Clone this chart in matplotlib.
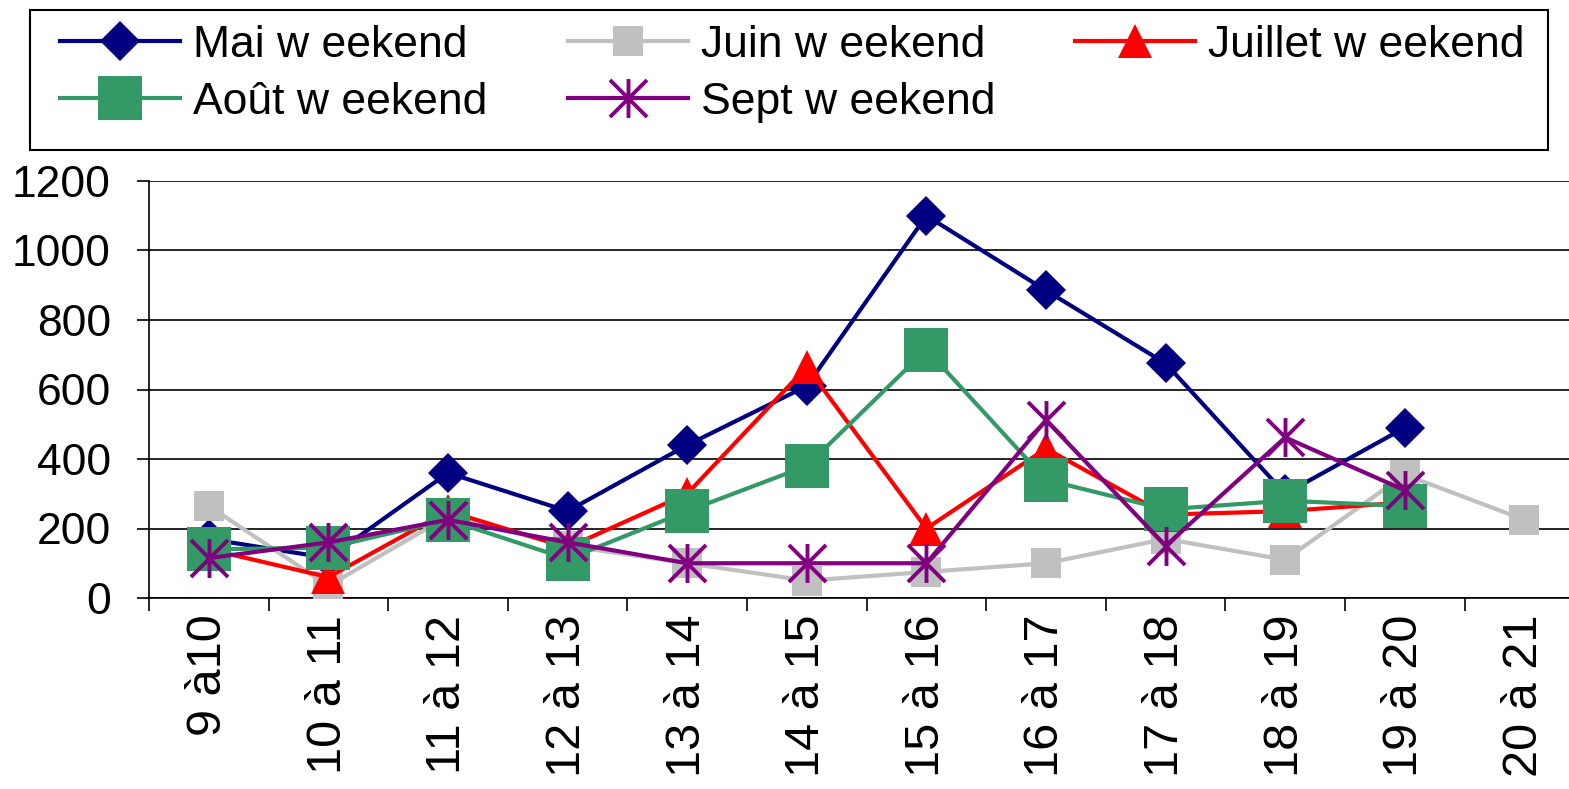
import matplotlib
matplotlib.use("Agg")
import matplotlib.pyplot as plt
from matplotlib.path import Path
from matplotlib.patches import Rectangle
import numpy as np

categories = ["9 à10", "10 à 11", "11 à 12", "12 à 13", "13 à 14", "14 à 15",
              "15 à 16", "16 à 17", "17 à 18", "18 à 19", "19 à 20", "20 à 21"]
mai = [170, 115, 360, 250, 440, 610, 1100, 885, 675, 300, 490]
juin = [265, 35, 235, 150, 100, 50, 75, 100, 170, 110, 355, 225]
juillet = [140, 60, 250, 145, 300, 665, 200, 430, 240, 250, 275]
aout = [140, 145, 225, 112, 250, 380, 715, 340, 255, 280, 265]
sept = [115, 160, 225, 160, 100, 100, 100, 512, 150, 462, 310]

plt.rcParams['font.family'] = ['Liberation Sans', 'DejaVu Sans']

W, H = 1569, 789
fig = plt.figure(figsize=(W/100, H/100), dpi=100)
left_px, right_px = 149, 149 + 12 * 119.6
ax = fig.add_axes([left_px/W, 1-598/H, (right_px-left_px)/W, (598-181)/H])

asterisk = Path([(-1, -1), (1, 1), (-1, 1), (1, -1), (0, -1.05), (0, 1.05)],
                [Path.MOVETO, Path.LINETO, Path.MOVETO, Path.LINETO, Path.MOVETO, Path.LINETO])

x = np.arange(len(categories))
h_mai, = ax.plot(x[:len(mai)], mai, color='#000080', lw=3, marker='D', ms=20, mew=0,
                 label='Mai w eekend', zorder=3)
h_juin, = ax.plot(x[:len(juin)], juin, color='#C0C0C0', lw=3, marker='s', ms=22, mew=0,
                  label='Juin w eekend', zorder=4)
h_juil, = ax.plot(x[:len(juillet)], juillet, color='#FF0000', lw=3, marker='^', ms=24, mew=0,
                  label='Juillet w eekend', zorder=5)
h_aout, = ax.plot(x[:len(aout)], aout, color='#339966', lw=3, marker='s', ms=32, mew=0,
                  label='Août w eekend', zorder=6)
h_sept, = ax.plot(x[:len(sept)], sept, color='#800080', lw=3, marker=asterisk, ms=28, mew=2.8,
                  mec='#800080', label='Sept w eekend', zorder=7)

ax.set_xlim(-0.5, len(categories) - 0.5)
ax.set_ylim(0, 1200)
ax.set_yticks(np.arange(0, 1201, 200))
ax.yaxis.grid(True, color='black', lw=1.2)
ax.set_axisbelow(True)
for s in ['top', 'right']:
    ax.spines[s].set_visible(False)
for s in ['left', 'bottom']:
    ax.spines[s].set_color('black')
    ax.spines[s].set_linewidth(1.2)

ax.set_xticks(x)
ax.set_xticklabels(categories, rotation=90, fontsize=35)
ax.set_xticks(np.arange(-0.5, len(categories), 1), minor=True)
ax.tick_params(axis='x', which='major', length=0, pad=12)
ax.tick_params(axis='x', which='minor', length=9, width=1.2, color='black')
ax.tick_params(axis='y', labelsize=32, length=8.5, width=1.2, pad=19)

# legend frame
fig.patches.append(Rectangle((30/W, 1-150/H), (1548-30)/W, 140/H, transform=fig.transFigure,
                             facecolor='white', edgecolor='black', lw=1.5, zorder=0))

handles = [h_mai, h_aout, h_juin, h_sept, h_juil]
leg = fig.legend(handles=handles, labels=[h.get_label() for h in handles],
                 loc='upper left', bbox_to_anchor=(60/W, 1-25/H, (1525-60)/W, 0.0),
                 mode='expand', ncol=3, fontsize=32, frameon=False,
                 handlelength=2.7, handletextpad=0.3,
                 borderpad=0.0, labelspacing=0.35, borderaxespad=0)

fig.savefig('out.png', dpi=100)
